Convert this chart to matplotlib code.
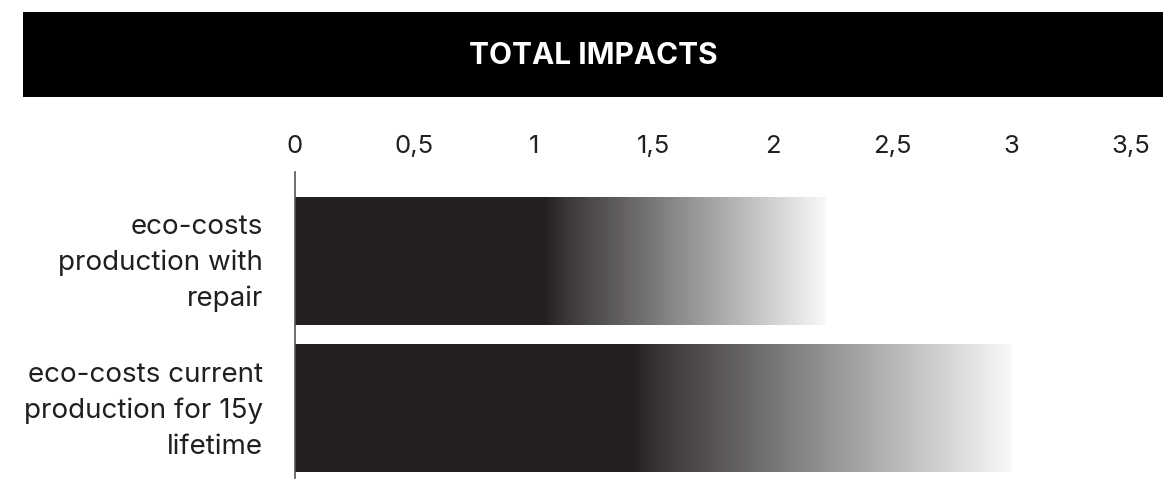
import numpy as np
import matplotlib
matplotlib.use("Agg")
import matplotlib.pyplot as plt
from matplotlib.colors import LinearSegmentedColormap
from matplotlib.patches import Rectangle
from matplotlib.transforms import ScaledTranslation

plt.rcParams['font.family'] = ['Inter', 'DejaVu Sans']

# Data
categories = ["eco-costs\nproduction with\nrepair",
              "eco-costs current\nproduction for 15y\nlifetime"]
values = [2.22, 3.0]
tick_values = [0, 0.5, 1, 1.5, 2, 2.5, 3, 3.5]
tick_labels = ["0", "0,5", "1", "1,5", "2", "2,5", "3", "3,5"]
title = "TOTAL IMPACTS"

INK = "#231f20"
W, H, DPI = 1163, 479, 100

fig = plt.figure(figsize=(W / DPI, H / DPI), dpi=DPI)
fig.patch.set_facecolor("white")

# Title banner
fig.patches.append(Rectangle((23 / W, 1 - 97 / H), 1 - 23 / W, 85 / H,
                             transform=fig.transFigure, facecolor="black",
                             edgecolor="none", zorder=0))
fig.text(593 / W, 1 - 56 / H, title, color="white", fontsize=21.5,
         fontweight="bold", ha="center", va="center")

ax = fig.add_axes([295 / W, 1 - 478 / H, (1131 - 295) / W, (478 - 172) / H])

# Fade from solid ink to near-white across the second half of each bar
cmap = LinearSegmentedColormap.from_list(
    "fade", [(0.0, INK), (0.47, INK), (0.51, "#3a3637"), (1.0, "#f8f8f8")])
grad = np.linspace(0, 1, 512).reshape(1, -1)

bar_h = 0.865
ypos = np.arange(len(values))
for y, v in zip(ypos, values):
    ax.imshow(grad, cmap=cmap, aspect="auto", interpolation="bilinear",
              extent=[0, v, y + bar_h / 2, y - bar_h / 2], zorder=1)

ax.set_xlim(0, 3.5)
ax.set_ylim(1.47, -0.60)

ax.xaxis.tick_top()
ax.set_xticks(tick_values)
ax.set_xticklabels(tick_labels, fontsize=18.5, color=INK)
ax.tick_params(axis="x", length=0, pad=10)

ax.set_yticks(ypos)
ax.set_yticklabels(categories, fontsize=20, color=INK, linespacing=1.48,
                   ha="right")
ax.tick_params(axis="y", length=0, pad=23)
# nudge the category labels up slightly so the text block sits centred on the bar
for lbl in ax.get_yticklabels():
    lbl.set_transform(lbl.get_transform() +
                      ScaledTranslation(0, 4 / 72, fig.dpi_scale_trans))

for s in ["top", "right", "bottom"]:
    ax.spines[s].set_visible(False)
ax.spines["left"].set_color("#555555")
ax.spines["left"].set_linewidth(1.2)
ax.spines["left"].set_zorder(3)

fig.savefig("out.png", dpi=DPI, facecolor="white")
